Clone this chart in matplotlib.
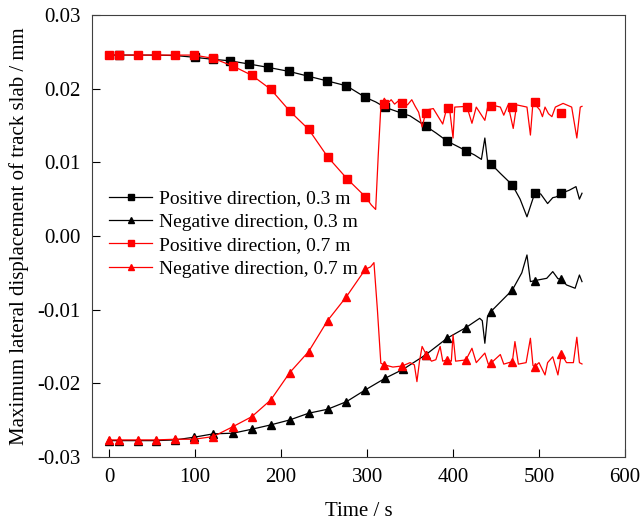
import matplotlib
matplotlib.use('Agg')
import matplotlib.pyplot as plt
from matplotlib.lines import Line2D

plt.rcParams['font.family'] = ['Liberation Serif', 'DejaVu Serif']
plt.rcParams['axes.unicode_minus'] = False

# positive direction, 0.3 m (black squares)
t_p03 = [0, 11, 33, 55, 77, 100, 121, 140, 163, 185, 209, 231, 253, 276, 298, 310, 321, 341, 350,
         368, 380, 393, 415, 425, 433, 437, 440, 444, 455, 469, 478, 486, 495, 502, 510, 516, 520,
         526, 535, 543, 547, 550]
v_p03 = [0.02456, 0.02456, 0.02456, 0.02455, 0.0245, 0.02425, 0.02398, 0.02379, 0.02334, 0.02289,
         0.02235, 0.02171, 0.02107, 0.02039, 0.01882, 0.0182, 0.01746, 0.01665, 0.0163, 0.01493,
         0.014, 0.01289, 0.01158, 0.011, 0.0104, 0.0133, 0.0103, 0.0098, 0.0085, 0.00692, 0.005,
         0.0026, 0.0058, 0.0057, 0.0044, 0.0052, 0.0053, 0.0058, 0.0062, 0.0067, 0.005, 0.0058]
mt_p03 = [11, 100, 121, 140, 163, 185, 209, 231, 253, 276, 298, 321, 341, 368, 393, 415, 444, 469, 495, 526]
mv_p03 = [0.02456, 0.02425, 0.02398, 0.02379, 0.02334, 0.02289, 0.02235, 0.02171, 0.02107, 0.02039,
          0.01882, 0.01746, 0.01665, 0.01493, 0.01289, 0.01158, 0.00977, 0.00692, 0.0058, 0.0058]

# negative direction, 0.3 m (black triangles)
t_n03 = [0, 11, 33, 55, 77, 99, 121, 144, 166, 188, 210, 232, 254, 276, 298, 321, 342, 368, 393,
         415, 431, 434, 437, 440, 444, 469, 480, 486, 490, 495, 509, 516, 522, 526, 532, 542, 547, 550]
v_n03 = [-0.02779, -0.02779, -0.02779, -0.02779, -0.02769, -0.02732, -0.02687, -0.02678, -0.02624,
         -0.02565, -0.02498, -0.02407, -0.02353, -0.0225, -0.0209, -0.01932, -0.0181, -0.01615,
         -0.01389, -0.01244, -0.01118, -0.0115, -0.01457, -0.011, -0.01027, -0.00733, -0.005,
         -0.00258, -0.0062, -0.00606, -0.00575, -0.00484, -0.0058, -0.00588, -0.00665, -0.0071,
         -0.0053, -0.0062]
mt_n03 = [0, 11, 33, 55, 77, 99, 121, 144, 166, 188, 210, 232, 254, 276, 298, 321, 342, 368, 393,
          415, 444, 469, 495, 526]
mv_n03 = [-0.02779, -0.02779, -0.02779, -0.02779, -0.02769, -0.02732, -0.02687, -0.02678, -0.02624,
          -0.02565, -0.02498, -0.02407, -0.02353, -0.0225, -0.0209, -0.01932, -0.0181, -0.01615,
          -0.01389, -0.01244, -0.01027, -0.00733, -0.00606, -0.00588]

# positive direction, 0.7 m (red squares)
t_p07 = [0, 11, 33, 55, 77, 99, 121, 144, 166, 188, 210, 232, 254, 277, 298, 305, 310, 313, 316,
         320, 324, 328, 332, 336, 342, 347, 352, 356, 360, 364, 369, 377, 388, 393, 396, 400, 402,
         416, 422, 427, 437, 441, 455, 459, 464, 470, 474, 486, 490, 493, 501, 504, 507, 511, 515,
         519, 528, 532, 538, 544, 548, 550]
v_p07 = [0.02456, 0.02456, 0.02456, 0.02456, 0.02456, 0.02456, 0.02411, 0.02307, 0.02181, 0.01991,
         0.01696, 0.01448, 0.01076, 0.00773, 0.00533, 0.0042, 0.0036, 0.011, 0.0175, 0.0187,
         0.018, 0.0185, 0.0179, 0.0183, 0.0181, 0.0178, 0.0185, 0.0176, 0.0168, 0.0148, 0.0171,
         0.0173, 0.0152, 0.0175, 0.0172, 0.0133, 0.0175, 0.0176, 0.0153, 0.0175, 0.0157, 0.0179,
         0.0175, 0.0164, 0.0178, 0.0146, 0.0178, 0.0175, 0.0137, 0.0182, 0.0171, 0.0162, 0.0175,
         0.0166, 0.0162, 0.0175, 0.018, 0.0178, 0.0175, 0.0133, 0.0175, 0.0176]
mt_p07 = [0, 11, 33, 55, 77, 99, 121, 144, 166, 188, 210, 232, 254, 277, 298, 320, 341, 368, 394,
          416, 444, 469, 495, 526]
mv_p07 = [0.02456, 0.02456, 0.02456, 0.02456, 0.02456, 0.02456, 0.02411, 0.02307, 0.02181, 0.01991,
          0.01696, 0.01448, 0.01076, 0.00773, 0.00533, 0.01787, 0.01809, 0.01665, 0.01733, 0.01746,
          0.01768, 0.01746, 0.01822, 0.01665]

# negative direction, 0.7 m (red triangles)
t_n07 = [0, 11, 33, 55, 77, 99, 121, 144, 166, 188, 210, 232, 254, 276, 298, 304, 308, 312, 316,
         320, 330, 341, 350, 355, 358, 361, 364, 369, 375, 380, 385, 388, 393, 398, 400, 403, 415,
         422, 427, 437, 441, 444, 455, 459, 469, 472, 476, 485, 490, 493, 495, 500, 507, 510, 516,
         522, 526, 532, 540, 544, 547, 550]
v_n07 = [-0.02769, -0.02769, -0.02769, -0.02769, -0.0276, -0.0276, -0.02724, -0.02589, -0.02453,
         -0.02226, -0.01856, -0.0157, -0.0115, -0.00824, -0.00452, -0.0042, -0.00362, -0.01,
         -0.01728, -0.0175, -0.0178, -0.01765, -0.0172, -0.0175, -0.01978, -0.017, -0.015,
         -0.01615, -0.017, -0.0168, -0.015, -0.017, -0.01683, -0.017, -0.01344, -0.017, -0.01683,
         -0.01525, -0.0172, -0.0159, -0.0174, -0.01728, -0.0161, -0.0174, -0.01706, -0.01434,
         -0.0174, -0.0172, -0.01389, -0.0176, -0.01774, -0.0172, -0.01887, -0.0172, -0.0164,
         -0.01887, -0.01602, -0.0172, -0.0172, -0.01375, -0.0172, -0.01738]
mt_n07 = [0, 11, 33, 55, 77, 99, 121, 144, 166, 188, 210, 232, 254, 276, 298, 320, 341, 369, 393,
          415, 444, 469, 495, 526]
mv_n07 = [-0.02769, -0.02769, -0.02769, -0.02769, -0.0276, -0.0276, -0.02724, -0.02589, -0.02453,
          -0.02226, -0.01856, -0.0157, -0.0115, -0.00824, -0.00452, -0.0175, -0.01765, -0.01615,
          -0.01683, -0.01683, -0.01728, -0.01706, -0.01774, -0.01602]

labels = ['Positive direction, 0.3 m', 'Negative direction, 0.3 m',
          'Positive direction, 0.7 m', 'Negative direction, 0.7 m']

fig = plt.figure(figsize=(6.41, 5.27), dpi=100)
ax = fig.add_axes([0.1435, 0.133, 0.8315, 0.8385])

series = [(t_p03, v_p03, mt_p03, mv_p03, 'black', 's'),
          (t_n03, v_n03, mt_n03, mv_n03, 'black', '^'),
          (t_p07, v_p07, mt_p07, mv_p07, 'red', 's'),
          (t_n07, v_n07, mt_n07, mv_n07, 'red', '^')]
handles = []
for t, v, mt, mv, c, m in series:
    ax.plot(t, v, '-', color=c, lw=0.9)
    ax.plot(mt, mv, m, color=c, ms=5.5, ls='none')
    handles.append(Line2D([], [], color=c, lw=0.9, marker=m, ms=5))

ax.set_xlim(-20, 600)
ax.set_ylim(-0.03, 0.03)
ax.set_xticks(range(0, 601, 100))
ax.set_yticks([-0.03, -0.02, -0.01, 0.0, 0.01, 0.02, 0.03])
ax.set_yticklabels(['-0.03', '-0.02', '-0.01', '0.00', '0.01', '0.02', '0.03'])
ax.tick_params(direction='in', length=6, labelsize=15, pad=8)
for s in ax.spines.values():
    s.set_color('#404040')
ax.set_xlabel('Time / s', fontsize=15, labelpad=11)
ax.set_ylabel('Maximum lateral displacement of track slab / mm', fontsize=15, labelpad=6)

ax.legend(handles, labels, loc='center left', bbox_to_anchor=(0.0, 0.505), frameon=False,
          fontsize=14, handlelength=2.2, labelspacing=0.3, handletextpad=0.35)

fig.savefig('out.png', dpi=100)
